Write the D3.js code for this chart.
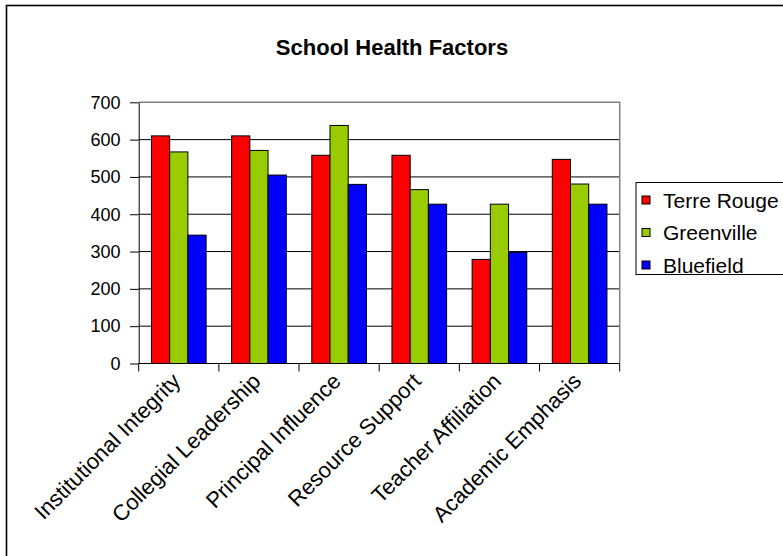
<!DOCTYPE html>
<html>
<head>
<meta charset="utf-8">
<script src="https://cdn.jsdelivr.net/npm/d3@7/dist/d3.min.js"></script>
<style>
  html, body { margin: 0; padding: 0; background: #fff; }
  svg { display: block; font-family: Arial, "Liberation Sans", sans-serif; }
</style>
</head>
<body>
<svg id="chart" width="783" height="556"></svg>
<script>
// School health factor scores for three schools
const categories = [
  "Institutional Integrity",
  "Collegial Leadership",
  "Principal Influence",
  "Resource Support",
  "Teacher Affiliation",
  "Academic Emphasis"
];
const seriesNames = ["Terre Rouge", "Greenville", "Bluefield"];
const terreRouge = [610, 610, 558, 558, 279, 547];
const greenville = [567, 571, 638, 466, 427, 481];
const bluefield  = [344, 505, 480, 427, 298, 427];
const yTicks = [0, 100, 200, 300, 400, 500, 600, 700];
const colors = ["#FF0000", "#99CC00", "#0000FF"];

const seriesValues = [terreRouge, greenville, bluefield];
const rows = categories.map((c, i) => ({
  category: c,
  values: seriesNames.map((s, j) => ({ series: s, value: seriesValues[j][i], idx: j }))
}));

const svg = d3.select("#chart");

// outer chart frame
svg.append("rect")
  .attr("x", 6.5).attr("y", 5.5)
  .attr("width", 900).attr("height", 700)
  .attr("fill", "#fff").attr("stroke", "#000").attr("stroke-width", 1.6);

const plot = { left: 138.7, right: 619.7, top: 102.3, bottom: 363.5 };

const x0 = d3.scaleBand().domain(categories)
  .range([plot.left, plot.right]).paddingInner(0).paddingOuter(0);
const x1 = d3.scaleBand().domain(seriesNames)
  .range([0, x0.bandwidth()]).paddingInner(0).paddingOuter(0.7);
const y = d3.scaleLinear().domain([0, 700]).range([plot.bottom, plot.top]);

// title
svg.append("text")
  .attr("x", 392).attr("y", 55)
  .attr("text-anchor", "middle")
  .attr("font-weight", "bold")
  .attr("font-size", 22)
  .text("School Health Factors");

// gridlines
svg.append("g")
  .selectAll("line")
  .data(yTicks.filter(t => t > 0 && t < 700))
  .join("line")
  .attr("x1", plot.left).attr("x2", plot.right)
  .attr("y1", d => y(d)).attr("y2", d => y(d))
  .attr("stroke", "#000").attr("stroke-width", 1);

// plot area frame (top and right)
svg.append("path")
  .attr("d", `M${plot.left},${y(700)}H${plot.right}V${plot.bottom}`)
  .attr("fill", "none").attr("stroke", "#808080").attr("stroke-width", 1.5);

// bars
svg.append("g")
  .selectAll("g")
  .data(rows)
  .join("g")
  .attr("transform", d => `translate(${x0(d.category)},0)`)
  .selectAll("rect")
  .data(d => d.values)
  .join("rect")
  .attr("x", d => x1(d.series))
  .attr("y", d => y(d.value))
  .attr("width", x1.bandwidth())
  .attr("height", d => y(0) - y(d.value))
  .attr("fill", d => colors[d.idx])
  .attr("stroke", "#000").attr("stroke-width", 1);

// y axis
const yAxis = svg.append("g")
  .attr("transform", `translate(${plot.left},0)`)
  .call(d3.axisLeft(y).tickValues(yTicks).tickSize(8.7).tickPadding(9.5).tickSizeOuter(0));
yAxis.select(".domain").attr("stroke", "#000");
yAxis.selectAll(".tick line").attr("stroke", "#000");
yAxis.selectAll("text")
  .attr("font-size", 18)
  .attr("font-family", "Arial, 'Liberation Sans', sans-serif")
  .attr("fill", "#000");

// x axis line with ticks at category boundaries
const xAxis = svg.append("g");
xAxis.append("line")
  .attr("x1", plot.left).attr("x2", plot.right)
  .attr("y1", plot.bottom).attr("y2", plot.bottom)
  .attr("stroke", "#000");
const boundaries = categories.map(c => x0(c)).concat([x0(categories[categories.length - 1]) + x0.bandwidth()]);
xAxis.selectAll(".btick")
  .data(boundaries)
  .join("line")
  .attr("x1", d => d).attr("x2", d => d)
  .attr("y1", plot.bottom).attr("y2", plot.bottom + 8)
  .attr("stroke", "#000");

// rotated category labels
xAxis.selectAll(".clabel")
  .data(categories)
  .join("text")
  .attr("text-anchor", "end")
  .attr("font-size", 22)
  .attr("transform", c => `translate(${x0(c) + x0.bandwidth() / 2 + 3},${plot.bottom + 19}) rotate(-45)`)
  .text(c => c);

// legend
const legend = svg.append("g");
legend.append("rect")
  .attr("x", 636).attr("y", 182.5)
  .attr("width", 200).attr("height", 92)
  .attr("fill", "#fff").attr("stroke", "#000").attr("stroke-width", 1);
const items = legend.selectAll(".item")
  .data(seriesNames)
  .join("g")
  .attr("transform", (d, i) => `translate(642,${196 + i * 32.5})`);
items.append("rect")
  .attr("width", 8).attr("height", 8)
  .attr("fill", (d, i) => colors[i])
  .attr("stroke", "#000").attr("stroke-width", 1);
items.append("text")
  .attr("x", 21).attr("y", 11.5)
  .attr("font-size", 21)
  .text(d => d);
</script>
</body>
</html>
